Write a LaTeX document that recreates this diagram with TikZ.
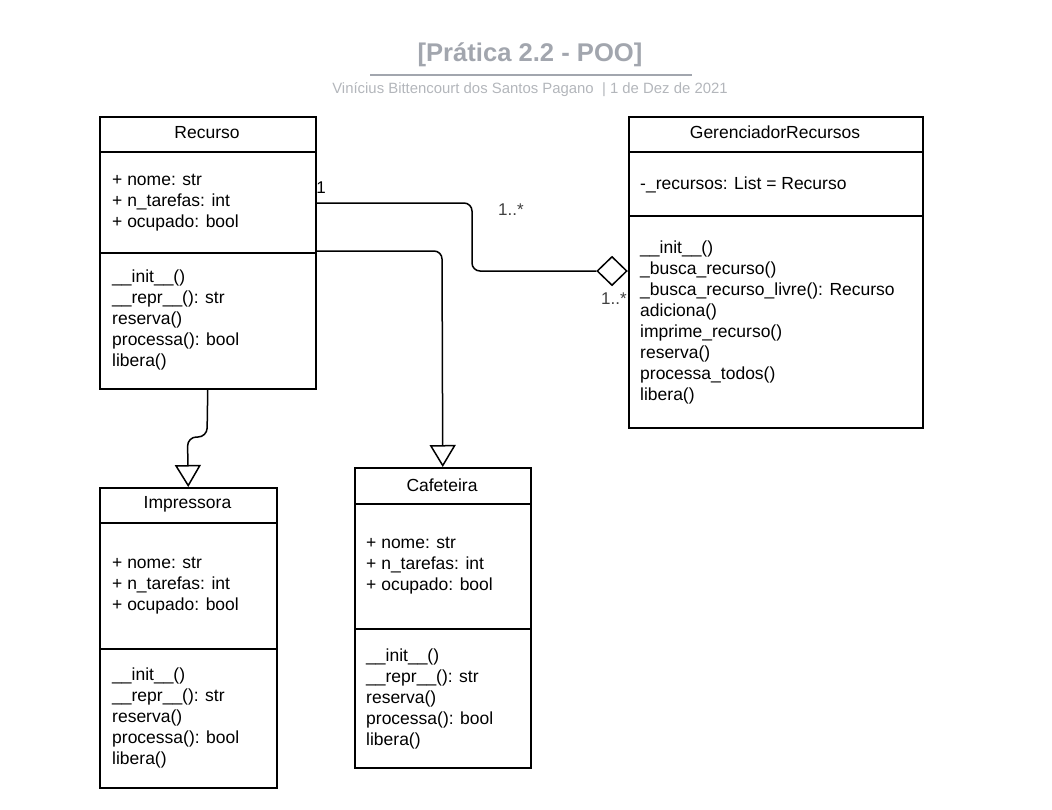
\documentclass[tikz,border=0pt]{standalone}
\usepackage{fontspec}
\setmainfont{Liberation Sans}
\usetikzlibrary{arrows.meta,shapes.geometric}
\definecolor{titlegray}{HTML}{A2A6AE}
\definecolor{subgray}{HTML}{B3B6BB}
\tikzset{
  classbox/.style={draw, line width=1.5pt, fill=white, inner sep=0, anchor=north west},
  member/.style={anchor=west, align=left, inner sep=0, font=\fontsize{17.5}{21}\selectfont},
  classtitle/.style={inner sep=0, font=\fontsize{17.5}{21}\selectfont},
  divider/.style={line width=1.5pt},
  conn/.style={line width=1.5pt},
  gen/.style={conn, -{Triangle[open, length=22pt, width=26pt, line width=1.5pt]}},
  mult/.style={inner sep=0, font=\fontsize{17}{20}\selectfont},
}
\begin{document}
\begin{tikzpicture}[x=1pt,y=-1pt]
\useasboundingbox (0,0) rectangle (1052,809);

% title
\node[inner sep=0, text=titlegray, font=\fontsize{25.6}{30}\selectfont\bfseries] (title) at (530,55) {[Prática 2.2 - POO]};
\draw[titlegray, line width=2pt] (370,75) -- (692,75);
\node[inner sep=0, text=subgray, font=\fontsize{14.9}{18}\selectfont] (subtitle) at (530,90) {Vinícius Bittencourt dos Santos Pagano \ | 1 de Dez de 2021};

% Recurso
\node[classbox, minimum width=216pt, minimum height=272pt] (recurso) at (99,116) {};
\draw[divider] (recurso.west |- 0,152) -- (recurso.east |- 0,152);
\draw[divider] (recurso.west |- 0,253) -- (recurso.east |- 0,253);
\node[classtitle] (recursoT) at (207,133) {Recurso};
\node[member] (recursoA) at (112,203) {+ nome: str\\+ n\_tarefas: int\\+ ocupado: bool};
\node[member] (recursoM) at (112,320) {\_\_init\_\_()\\\_\_repr\_\_(): str\\reserva()\\processa(): bool\\libera()};

% GerenciadorRecursos
\node[classbox, minimum width=294pt, minimum height=311pt] (ger) at (628,116) {};
\draw[divider] (ger.west |- 0,152) -- (ger.east |- 0,152);
\draw[divider] (ger.west |- 0,216) -- (ger.east |- 0,216);
\node[classtitle] (gerT) at (775,132) {GerenciadorRecursos};
\node[member] (gerA) at (640,185) {-\_recursos: List = Recurso};
\node[member] (gerM) at (640,322) {\_\_init\_\_()\\\_busca\_recurso()\\\_busca\_recurso\_livre(): Recurso\\adiciona()\\imprime\_recurso()\\reserva()\\processa\_todos()\\libera()};

% Impressora
\node[classbox, minimum width=177pt, minimum height=300pt] (impressora) at (99,487) {};
\draw[divider] (impressora.west |- 0,523) -- (impressora.east |- 0,523);
\draw[divider] (impressora.west |- 0,649) -- (impressora.east |- 0,649);
\node[classtitle] (impressoraT) at (187.5,504) {Impressora};
\node[member] (impressoraA) at (112,586) {+ nome: str\\+ n\_tarefas: int\\+ ocupado: bool};
\node[member] (impressoraM) at (112,718) {\_\_init\_\_()\\\_\_repr\_\_(): str\\reserva()\\processa(): bool\\libera()};

% Cafeteira
\node[classbox, minimum width=176pt, minimum height=300pt] (cafeteira) at (354,467) {};
\draw[divider] (cafeteira.west |- 0,504) -- (cafeteira.east |- 0,504);
\draw[divider] (cafeteira.west |- 0,629) -- (cafeteira.east |- 0,629);
\node[classtitle] (cafeteiraT) at (442,485) {Cafeteira};
\node[member] (cafeteiraA) at (366,566) {+ nome: str\\+ n\_tarefas: int\\+ ocupado: bool};
\node[member] (cafeteiraM) at (366,699) {\_\_init\_\_()\\\_\_repr\_\_(): str\\reserva()\\processa(): bool\\libera()};

% aggregation
\node[diamond, draw, line width=1.5pt, fill=white, inner sep=0, minimum width=30pt, minimum height=29pt] (agg) at (612,271) {};
\coordinate (bend1) at (472,203);
\draw[conn, rounded corners=8pt] (recurso.east |- bend1) -- (bend1) -- (bend1 |- agg.west) -- (agg.west);
\node[mult] (m1) at (321,188) {1};
\node[mult, text=black!75] (m2) at (511,210) {1..*};
\node[mult, text=black!75] (m3) at (614,299) {1..*};

% generalizations
\coordinate (bend2) at (442,251);
\draw[gen, rounded corners=8pt] (recurso.east |- bend2) -- (bend2) -- (cafeteira.north);
\coordinate (b3a) at (207,437);
\coordinate (b3b) at (187.5,437);
\draw[gen, rounded corners=9pt] (recurso.south) -- (b3a) -- (b3b) -- (impressora.north);
\end{tikzpicture}
\end{document}
